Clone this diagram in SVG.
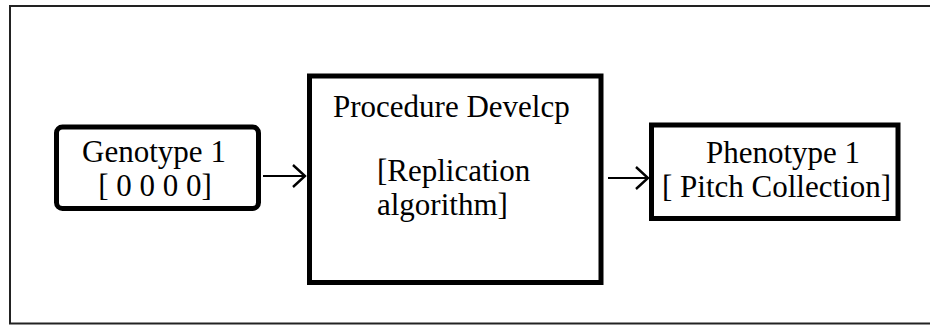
<svg xmlns="http://www.w3.org/2000/svg" width="930" height="326" viewBox="0 0 930 326">
<style>
.box{fill:#fff;stroke:#000;stroke-width:5}
.t{font-family:"Liberation Serif","Times New Roman",serif;font-size:31px;fill:#000}
.c{text-anchor:middle}
.conn{stroke:#000;stroke-width:2;fill:none}
.frame{stroke:#222;stroke-width:2;fill:none}
</style>
<defs>
<marker id="arr" markerWidth="16" markerHeight="26" refX="13" refY="12" orient="auto" markerUnits="userSpaceOnUse">
<path d="M1,1 L13,12 L1,23" fill="none" stroke="#000" stroke-width="2.4"/>
</marker>
</defs>
<rect width="930" height="326" fill="#fff"/>
<path class="frame" d="M930,6 H10 V323.5 H930"/>
<g id="genotype">
<rect class="box" x="56.5" y="127" width="202" height="81.5" rx="6"/>
<text class="t c" x="154" y="162">Genotype 1</text>
<text class="t c" x="155" y="196">[ 0 0 0 0]</text>
</g>
<g id="procedure">
<rect class="box" x="309.5" y="76" width="291.5" height="206.5"/>
<text class="t" x="333" y="117">Procedure Develcp</text>
<text class="t" x="377" y="181">[Replication</text>
<text class="t" x="377" y="215">algorithm]</text>
</g>
<g id="phenotype">
<rect class="box" x="651.5" y="125" width="246.5" height="93.5"/>
<text class="t" x="706" y="163">Phenotype 1</text>
<text class="t" x="662" y="197">[ Pitch Collection]</text>
</g>
<g id="connectors">
<line class="conn" x1="263" y1="176" x2="305" y2="176" marker-end="url(#arr)"/>
<line class="conn" x1="608" y1="178" x2="648" y2="178" marker-end="url(#arr)"/>
</g>
</svg>
